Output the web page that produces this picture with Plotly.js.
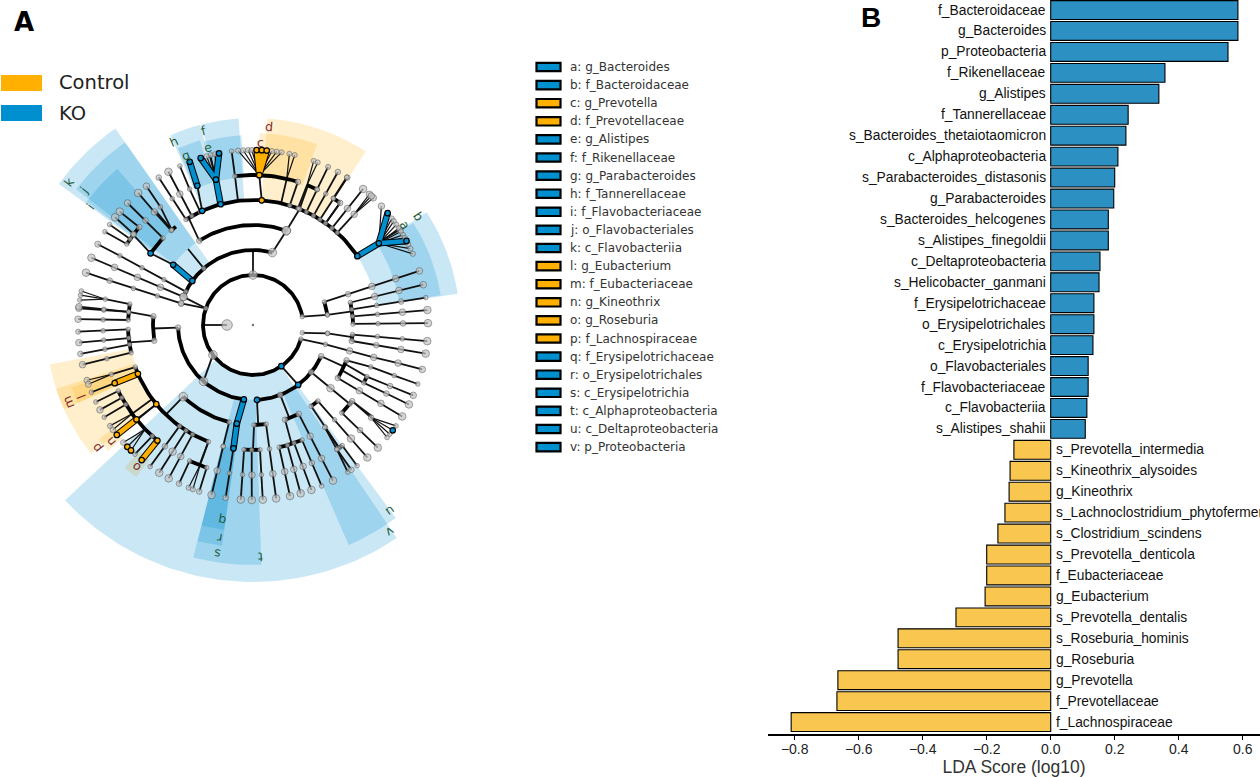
<!DOCTYPE html>
<html><head><meta charset="utf-8">
<script src="https://cdn.plot.ly/plotly-3.0.1.min.js"></script>
<style>html,body{margin:0;padding:0;background:#fff}#p{width:1260px;height:777px}</style>
</head><body><div id="p"></div>
<script>
// ---------- Panel B : LDA scores ----------
const taxa = ["f_Bacteroidaceae","g_Bacteroides","p_Proteobacteria","f_Rikenellaceae","g_Alistipes","f_Tannerellaceae","s_Bacteroides_thetaiotaomicron","c_Alphaproteobacteria","s_Parabacteroides_distasonis","g_Parabacteroides","s_Bacteroides_helcogenes","s_Alistipes_finegoldii","c_Deltaproteobacteria","s_Helicobacter_ganmani","f_Erysipelotrichaceae","o_Erysipelotrichales","c_Erysipelotrichia","o_Flavobacteriales","f_Flavobacteriaceae","c_Flavobacteriia","s_Alistipes_shahii","s_Prevotella_intermedia","s_Kineothrix_alysoides","g_Kineothrix","s_Lachnoclostridium_phytofermentans","s_Clostridium_scindens","s_Prevotella_denticola","f_Eubacteriaceae","g_Eubacterium","s_Prevotella_dentalis","s_Roseburia_hominis","g_Roseburia","g_Prevotella","f_Prevotellaceae","f_Lachnospiraceae"];
const lda = [0.585,0.585,0.554,0.357,0.338,0.242,0.235,0.21,0.2,0.197,0.18,0.18,0.154,0.151,0.135,0.135,0.132,0.117,0.117,0.113,0.108,-0.115,-0.127,-0.13,-0.143,-0.165,-0.2,-0.2,-0.205,-0.296,-0.477,-0.477,-0.665,-0.668,-0.811];
const ldaTicks = [-0.8,-0.6,-0.4,-0.2,0,0.2,0.4,0.6];

// ---------- Panel A : legend ----------
const groupNames = ["Control","KO"];
const groupColor = {C:"#ffb000",K:"#0090d0"};
const cladeKeys = "abcdefghijklmnopqrstuv".split("");
const cladeNames = ["g_Bacteroides","f_Bacteroidaceae","g_Prevotella","f_Prevotellaceae","g_Alistipes","f_Rikenellaceae","g_Parabacteroides","f_Tannerellaceae","f_Flavobacteriaceae","o_Flavobacteriales","c_Flavobacteriia","g_Eubacterium","f_Eubacteriaceae","g_Kineothrix","g_Roseburia","f_Lachnospiraceae","f_Erysipelotrichaceae","o_Erysipelotrichales","c_Erysipelotrichia","c_Alphaproteobacteria","c_Deltaproteobacteria","p_Proteobacteria"];
const cladeGroup = "KKCCKKKKKKKCCCCCKKKKKK".split("");

// ---------- Panel A : shaded sectors (degrees clockwise from top, radius) ----------
const sectorFrom  = [57.5,57,2,4,345,345.5,337,336.5,306.5,307.5,306,246,246,229,217.5,231.5,188,188,188,178,143.5,146];
const sectorTo    = [81,81.3,19.5,33,356.5,356,344,345.2,319,325,325,251,252,233.5,222,259,194.4,194.4,194.4,188,156.5,227];
const sectorInner = [148,125,148,124,148,124,148,124,125,100,76,150,125,172,170,124,125,100,75,75,75,50];
const sectorOuter = [190,207,192,207,190,207,192,207,207,223,240,192,207,192,192,207,207,223,240,240,240,257];
const labelTheta  = [56.8,56.8,2.4,4.7,345.8,345.7,338.3,336.7,306,308.4,308,247.3,247.4,230.6,219.5,231.7,189,189,189,178.3,143.6,146.5];
const labelRadius = [182,197.5,183,199,183,200.6,182,199.6,200.8,216,233,185.7,200,183.8,183.8,199,198,216,232,232.4,231,248];

// ---------- Panel A : tree ----------
const levelRadius = [0,26,50,75,100,125,150,175];
// thick arcs : level, from, to
const arcLevel = [2,3,3,3,3,4,4,4,4,4,4,5,5,5,5,5,5,5,5,5,5,6,6,6,6,6];
const arcFrom  = [106,114.6,187,292,72,77,95.3,110.7,139.5,152.8,172.5,114.4,127.5,156.9,176.8,200.9,257.2,272.3,305,319.1,327.6,143.5,198,219.6,302.7,353.1];
const arcTo    = [440.3,177,268,375,82.2,89.4,99.4,122,144.4,161.3,179.4,117.6,134.7,167.9,184.1,250.3,268,279.6,314,321.9,335,146,205,243.9,310.7,377.1];
const arcLevelB = [4,4,4,5,6,6];
const arcFromB  = [193.8,261,327.5,336,21.1,32.4];
const arcToB    = [224.2,275,379.5,416.6,25.3,35.5];
// chains of thin branches : first level, angle at each following level, node size at each level
const chainStart = [1,2,2,2,3,3,2,2,3,4,4,4,4,4,4,2,3,4,4,4,4,5,3,5,4,5,6,6,6,4,3,4,4,5,5,5,5,3,4,4,5,5,5,5,5,5,5,5,5,6,6,5,5,5,5,6,6,6,6,6,5,3,4,4,4,5,5,5,5,5,5,5,5,5,3,5,3,4,4,5,6,6,6,6,5,3,4,5,6,5,3,2,2,3,4,5,5,5,5,5,5,5,5,5,5,6,5,5,6,5,5,6,5,5,5,5,6,5];
const chainTheta = [[270,270],[0,0],[80.3,82.2],[99,96.4],[72.1,72.1,72,72,72],[82.2,82.2],[106.4,105,105,105,104.7,104.7],[145.5,143],[96.4,97],[77,76.8,76.7,76.7],[81,81,81,81],[85,85.1,85.1,85.1],[89.4,89.4,89.4,89.4],[95.5,95.3,95.3,95.3],[99.2,99.3,99.4,99.4],[233.3,221.3],[114.6,114.6],[110.7,109.6,109.7,109.7],[122,121.7,121.5,121.5],[113,114.4,114,113.7],[117,117.6,117.2,117],[134.7,134.5,134.5],[129,129.2,129.2],[127.5,128.1],[144.4,144.7,145],[145,145],[146,147.2],[146,145.8],[143.5,143.5],[139.5,139.3,139.2,139.2],[158.7,158.7],[152.8,152.8,152.8,152.8],[161.3,162],[167.9,167.8,167.8],[164,164.2,164.2],[160.8,160.5,160.5],[156.9,156.9,156.9],[177,177],[172.5,172.4,172.4,172.4],[179.4,180],[184.1,184,184],[180.6,180.4,180.4],[176.8,176.8,176.8],[189,189,189],[193.8,193.8,193.7],[200.9,200.7],[208.9,208.8,208.8],[212.4,212.4,212.4],[216,216,216],[205,205],[198,197.9],[230.7,231],[247.2,247.2],[250.3,250.8],[233.7,233.7],[243.9,243.9],[241,241],[238,238.2],[222.2,222.4],[247.2,247.4],[276,275.7,275.5],[268,268],[275,276],[261,262],[224.2,224.2],[257.2,257,256.9],[261,260.7,260.5],[264,264.2,264.2],[268,267.8,267.8],[272.3,272,271.9],[276,276,276],[279.6,279.9],[319.1,318.9,319],[314,314.2,314.2],[296.4,297,297.3,297.5,297.5],[305,307],[292,292.2,292.4,292.6,292.6],[193.8,193.8],[307,305],[319.5,319.5],[310.7,310.4],[307.3,308],[305,305],[302.7,302.2],[327.6,327.4,327.4],[319,319.5],[327.5,329],[319.5,321.9,322.5,322.5],[345.7,345.7],[330.7,330.8,331.1],[15,19.5],[289.5,292],[289.5,286.7],[286.7,286.9,287,287.2,287.4],[19.5,21.9],[335,335,335.3],[336,338.2],[4,2.4],[21.9,21.5],[25.3,25.3],[29,29,29],[32.4,32.4,32.6],[39.2,39,39],[42.4,42.4],[21.1,21.1],[32.4,32.4],[35.5,35.5],[35.5,35.5],[353.1,353],[13,13],[17.1,17.4],[56.6,57],[353.1,353.1],[230.7,230.7],[127.5,127.5],[200.9,200.9],[25.3,25.4],[145,146]];
const chainSize = [[10,0],[8,0],[4,4],[4,4],[4,5,6,6,6],[4,0],[4,4,6,6,6,6],[5,5],[4,0],[4,6,6,6],[4,4,5,4],[4,4,6,7],[4,4,5,7],[4,4,4,7],[5,5,6,7],[8,8],[5,0],[5,4,4,4],[5,6,6,7],[0,4,5,6],[0,4,5,7],[4,5,7],[5,7,4],[5,5],[4,4,4],[4,0],[4,4],[4,5],[4,4],[4,4,7,7],[5,0],[5,6,6,7],[5,0],[4,6,7],[4,6,7],[4,6,7],[4,5,4],[5,0],[4,4,6,7],[4,0],[4,4,7],[4,6,7],[4,4,7],[0,4,5],[4,6,7],[4,0],[4,6,7],[4,7,7],[4,5,4],[4,5],[4,5],[0,0],[0,0],[4,4],[0,0],[4,4],[4,6],[4,4],[4,4],[0,4],[4,4,6],[5,0],[5,0],[5,0],[8,0],[4,4,6],[4,4,5],[4,4,6],[4,4,4.5],[4,4,6],[4,4,6],[4,4],[4,6,7],[4,5,6],[4,4,4,4,5.5],[0,5],[7,6,6,6,7],[4,4],[5,5],[4,0],[5,7],[5,7],[4,4],[4,4],[4,4,5],[4,0],[5,0],[0,4,6,7],[0,0],[4,6,7],[8,8],[4,7],[0,5],[5,4,4,5,7],[8,4],[4,4,4],[5,5],[5,5],[4,0],[4,4.5],[4,4,5],[4,4,5],[4,6,7],[4,6],[4,0],[4,4],[4,0],[0,5],[4,4],[0,0],[4,5],[5,5],[0,0],[0,0],[0,0],[0,0],[4,4.5],[0,0]];
// fans : level of the converging node, its angle, the leaf angles, the leaf sizes
const fanLevel = [5,6,6,6,6,6,6,6,6,6,6];
const fanParent = [124,128.1,200.7,226,233.7,250.8,279.9,2.4,13,21.1,42.4];
const fanLeaves = [[],[125.2,127,128.6,130],[201.6,200.1],[227.8,225.9,224.2],[234.8,233.2],[251.6,250.2],[278.2,279.8,281.2],[355.1,356.8,358.4,359.6,1.2,2.9,4.5,6.2,7.8,9.4],[12,13.8],[20.3,21.7],[41.7,43.4,42.5]];
const fanSizes = [[],[4,4,4,4],[4.5,4.5],[5,5,5],[4.5,5],[5.5,5.5],[4,4,4],[4.5,4.5,4.5,4.5,4.5,4.5,4.5,4.5,4.5,4.5],[4.5,4.5],[4.5,4.5],[6,6,6]];
const fan2Level = 6;
const fan2Parent = 57;
const fan2Leaves = [47.2,52.5,53.6,55,56.4,57.7,59,60.2,62.5,64.1,66,346,344.6,347.5];
const fan2Sizes  = [6,4.5,4.5,4.5,4.5,4.5,4.5,4.5,4.5,4.5,4.5,4.5,4.5,4.5];
// bold coloured branches : level, angles, group
const boldStart = [3,3,5,6,6,6,5,6,6,5,6,6,6,6,6];
const boldTheta = [[306,307],[187,189.3,189],[345,345.7],[345.7,342.6],[345.7,348.8],[338.2,338.8],[56.6,57],[57,50.3],[57,61.3],[247,247.2],[231,231.1],[219.6,219.5],[2.4,1.2],[2.4,2.9],[2.4,4.5]];
const boldGroup = ["K","K","K","K","K","K","K","K","K","C","C","C","C","C","C"];
// coloured nodes
const hotLevel = [2,3,3,3,3,4,4,5,5,5,5,5,6,6,6,7,7,7,7,7,7,5,6,7,7,7,5,6,5,6,7,6,7,7,7];
const hotTheta = [145.5,143,177,187,306,307,189.3,189,305,336,345,56.6,338.2,345.7,57,338.8,342.6,348.8,50.3,61.3,127,4,2.4,1.2,2.9,4.5,247,247.2,230.7,231,231.1,219.6,219.5,225.9,224.2];
const hotGroup = "KKKKKKKKKKKKKKKKKKKKKCCCCCCCCCCCCCC".split("");
const rootTheta = [0]; const rootLevel = [0];

// ---------- drawing helpers ----------
const rad = d => d*Math.PI/180;
const px = (r,t) => r*Math.sin(rad(t));
const py = (r,t) => r*Math.cos(rad(t));
const at = (l,t) => [px(levelRadius[l],t),py(levelRadius[l],t)];
function arcPts(r,a,b){const xs=[],ys=[];const n=Math.max(2,Math.ceil(Math.abs(b-a)/1.5));for(let i=0;i<=n;i++){const t=a+(b-a)*i/n;xs.push(px(r,t));ys.push(py(r,t));}return [xs,ys];}
const traces = [];
// sectors
cladeKeys.forEach((k,i)=>{
  const o=arcPts(sectorOuter[i],sectorFrom[i],sectorTo[i]), n=arcPts(sectorInner[i],sectorTo[i],sectorFrom[i]);
  const c=cladeGroup[i]=="K"?"rgba(0,144,208,0.21)":"rgba(255,176,0,0.2)";
  traces.push({type:"scatter",mode:"lines",x:o[0].concat(n[0]),y:o[1].concat(n[1]),fill:"toself",fillcolor:c,line:{width:0},hoverinfo:"skip",showlegend:false});
});
// thin lines
let lx=[],ly=[],fx=[],fy=[],nx=[],ny=[],ns=[];
chainTheta.forEach((th,i)=>{
  th.forEach((t,j)=>{const p=at(chainStart[i]+j,t);lx.push(p[0]);ly.push(p[1]);const s=chainSize[i][j];if(s){nx.push(p[0]);ny.push(p[1]);ns.push(s+0.6);}});
  lx.push(null);ly.push(null);
});
function addFan(l,pt,leaves,sizes){const q=at(l,pt);leaves.forEach((t,j)=>{const e=at(l+1,t);fx.push(q[0],e[0],null);fy.push(q[1],e[1],null);nx.push(e[0]);ny.push(e[1]);ns.push(sizes[j]+0.6);});}
fanLevel.forEach((l,i)=>addFan(l,fanParent[i],fanLeaves[i],fanSizes[i]));
addFan(fan2Level,fan2Parent,fan2Leaves.slice(0,11),fan2Sizes);
addFan(6,345.7,fan2Leaves.slice(11),fan2Sizes.slice(11));
traces.push({type:"scatter",mode:"lines",x:fx,y:fy,line:{color:"#111",width:1.2},hoverinfo:"skip",showlegend:false});
traces.push({type:"scatter",mode:"lines",x:lx,y:ly,line:{color:"#111",width:1.8},hoverinfo:"skip",showlegend:false});
// arcs
let ax=[],ay=[];
function addArc(l,a,b){const p=arcPts(levelRadius[l],a,b);ax=ax.concat(p[0],[null]);ay=ay.concat(p[1],[null]);}
arcLevel.forEach((l,i)=>addArc(l,arcFrom[i],arcTo[i]));
arcLevelB.forEach((l,i)=>addArc(l,arcFromB[i],arcToB[i]));
traces.push({type:"scatter",mode:"lines",x:ax,y:ay,line:{color:"#000",width:3.8},hoverinfo:"skip",showlegend:false});
// bold coloured branches
["K","C"].forEach(g=>{
  let bx=[],by=[];
  boldTheta.forEach((th,i)=>{if(boldGroup[i]!=g)return;th.forEach((t,j)=>{const p=at(boldStart[i]+j,t);bx.push(p[0]);by.push(p[1]);});bx.push(null);by.push(null);});
  traces.push({type:"scatter",mode:"lines",x:bx,y:by,line:{color:"#000",width:6.6},hoverinfo:"skip",showlegend:false});
  traces.push({type:"scatter",mode:"lines",x:bx,y:by,line:{color:groupColor[g],width:4.6},hoverinfo:"skip",showlegend:false});
});
// nodes
traces.push({type:"scatter",mode:"markers",x:nx,y:ny,marker:{size:ns,color:"#c4c4c4",line:{color:"#555",width:0.8}},hoverinfo:"skip",showlegend:false});
["K","C"].forEach(g=>{
  const hx=[],hy=[];hotLevel.forEach((l,i)=>{if(hotGroup[i]!=g)return;const p=at(l,hotTheta[i]);hx.push(p[0]);hy.push(p[1]);});
  traces.push({type:"scatter",mode:"markers",x:hx,y:hy,marker:{size:5.5,color:groupColor[g],line:{color:"#000",width:1.2}},hoverinfo:"skip",showlegend:false});
});
traces.push({type:"scatter",mode:"markers",x:rootLevel.map((l,i)=>px(levelRadius[l],rootTheta[i])),y:rootLevel.map((l,i)=>py(levelRadius[l],rootTheta[i])),marker:{size:2.5,color:"#777"},hoverinfo:"skip",showlegend:false});
// bars
traces.push({type:"bar",orientation:"h",xaxis:"x2",yaxis:"y2",x:lda,y:taxa,width:0.9,
  marker:{color:lda.map(v=>v>0?"#2c91c2":"#f9c650"),line:{color:"#000",width:1.1}},hoverinfo:"skip",showlegend:false});

const annotations=[], shapes=[];
const paperText=(x,y,text,font,xanchor)=>annotations.push({xref:"paper",yref:"paper",x:x/1260,y:1-y/777,xanchor:xanchor||"center",yanchor:"middle",text,showarrow:false,font});
// panel letters
paperText(24,22,"<b>A</b>",{family:"DejaVu Sans",size:26,color:"#000"});
paperText(871,17,"<b>B</b>",{family:"Liberation Sans",size:28,color:"#000"});
// group legend
groupNames.forEach((g,i)=>{
  const yc=83+i*30;
  shapes.push({type:"rect",xref:"paper",yref:"paper",x0:1/1260,x1:42/1260,y0:1-(yc-8)/777,y1:1-(yc+8)/777,fillcolor:groupColor[i?"K":"C"],line:{width:0}});
  paperText(57,yc,g,{family:"DejaVu Sans",size:19.5,color:"#222"},"left");
});
// clade legend
cladeKeys.forEach((k,i)=>{
  const yc=67+i*18.1;
  shapes.push({type:"rect",xref:"paper",yref:"paper",x0:536.5/1260,x1:560.5/1260,y0:1-(yc-4.2)/777,y1:1-(yc+4.2)/777,fillcolor:groupColor[cladeGroup[i]],line:{color:"#000",width:2.2}});
  paperText(568,yc,k+": "+cladeNames[i],{family:"DejaVu Sans",size:12,color:"#333"},"left");
  annotations.push({xref:"x",yref:"y",x:px(labelRadius[i],labelTheta[i]),y:py(labelRadius[i],labelTheta[i]),xanchor:"center",yanchor:"middle",text:k,textangle:labelTheta[i],showarrow:false,font:{family:"DejaVu Sans",size:12.5,color:cladeGroup[i]=="K"?"#1f5e3c":"#7d2b2b"}});
});
// bar labels
taxa.forEach((t,i)=>{
  const pos=lda[i]>0;
  annotations.push({xref:"x2",yref:"y2",x:0,y:t,xshift:pos?-3:3,xanchor:pos?"right":"left",yanchor:"middle",text:t,showarrow:false,font:{family:"Liberation Sans",size:13.8,color:"#111"}});
});

const layout={width:1260,height:777,margin:{l:0,r:0,t:0,b:0},paper_bgcolor:"#fff",plot_bgcolor:"rgba(0,0,0,0)",showlegend:false,
  xaxis:{domain:[0,630/1260],range:[-253,377],visible:false,fixedrange:true},
  yaxis:{domain:[0,1],range:[-452,325],visible:false,fixedrange:true},
  xaxis2:{domain:[768/1260,1],range:[-0.8834,0.654],anchor:"y2",tickvals:ldaTicks,ticktext:ldaTicks.map(v=>v.toFixed(1).replace("-","\u2212")),ticks:"outside",ticklen:4,tickwidth:1.2,tickcolor:"#000",ticklabelstandoff:-2,showline:true,linecolor:"#000",linewidth:1.5,showgrid:false,zeroline:false,tickfont:{family:"Liberation Sans",size:14,color:"#222"},title:{text:"LDA Score (log10)",font:{family:"Liberation Sans",size:17.5,color:"#333"},standoff:6},automargin:false},
  yaxis2:{domain:[1-734/777,1],anchor:"x2",type:"category",categoryorder:"array",categoryarray:taxa,range:[34.57,-0.48],visible:false,fixedrange:true},
  annotations,shapes};
Plotly.newPlot("p",traces,layout,{displayModeBar:false,staticPlot:true});
</script></body></html>
